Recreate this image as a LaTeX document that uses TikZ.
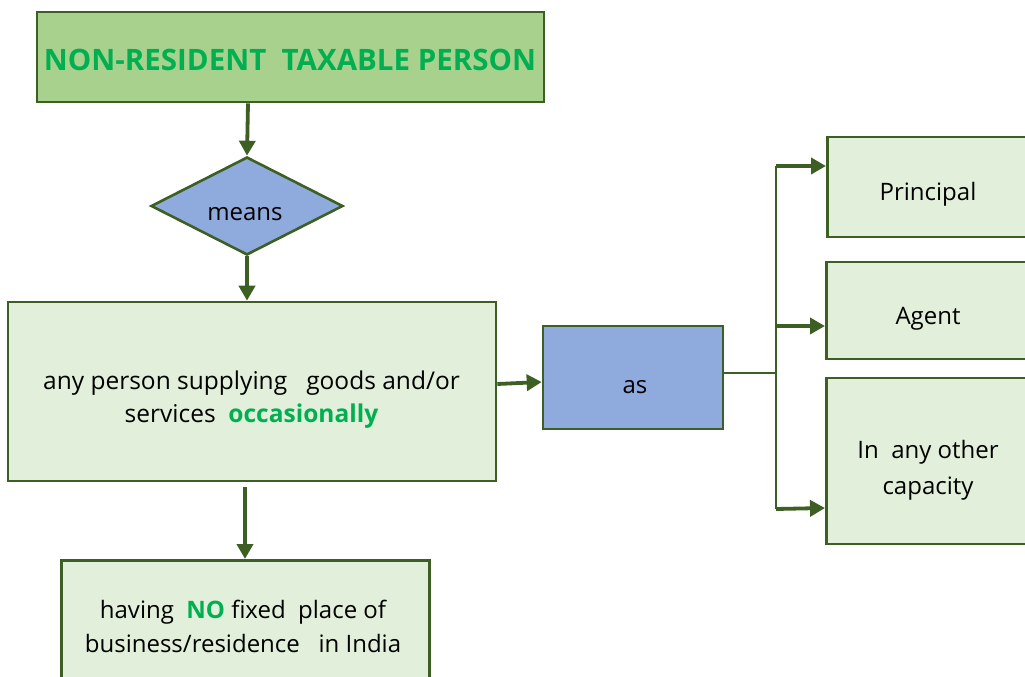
\documentclass[tikz,border=0pt]{standalone}
\usepackage{fontspec}
\setmainfont{Open Sans}
\usetikzlibrary{arrows.meta,shapes.geometric}
\definecolor{edge}{HTML}{3E5F24}
\definecolor{titlefill}{HTML}{A9D18E}
\definecolor{paleg}{HTML}{E2EFDA}
\definecolor{blue}{HTML}{8FAADC}
\definecolor{hilite}{HTML}{00B050}
\tikzset{
  box/.style={draw=edge, line width=2.6pt, fill=paleg, inner sep=0pt},
  bluebox/.style={box, fill=blue},
  txt/.style={align=center, inner sep=0pt, font=\fontsize{24}{34}\selectfont},
  conn/.style={draw=edge, line width=3.8pt, -{Triangle[length=15pt,width=16pt]}},
  wire/.style={draw=edge, line width=2.6pt},
}
\begin{document}
\begin{tikzpicture}[x=1pt,y=-1pt]
\useasboundingbox (0,0) rectangle (1025,677);
% title
\node[box, fill=titlefill, minimum width=507pt, minimum height=90pt] (title) at (290.5,57) {};
\node[txt, font=\fontsize{29.5}{34}\bfseries\selectfont, text=hilite] (titletext) at (290,59.5) {NON-RESIDENT\ \ TAXABLE PERSON};
% decision
\node[draw=edge, line width=2.6pt, fill=blue, diamond, aspect=1.96, minimum width=192pt, minimum height=98pt, inner sep=0pt] (means) at (247,206) {};
\node[txt] (meanstext) at (245,214) {means};
% main statement
\node[box, minimum width=488pt, minimum height=179pt] (main) at (252,391.5) {};
\node[txt, font=\fontsize{24.5}{33}\selectfont] (maintext) at (251.5,399.5) {any person supplying\ \ \ goods and/or\\services\ \ \textcolor{hilite}{\textbf{occasionally}}};
\node[bluebox, minimum width=180pt, minimum height=103pt] (as) at (633,377.5) {};
\node[txt] (astext) at (635,387) {as};
% capacities
\node[box, minimum width=209pt, minimum height=100pt, anchor=west] (principal) at (826,187) {};
\node[txt] (principaltext) at (928,194) {Principal};
\node[box, minimum width=210pt, minimum height=97pt, anchor=west] (agent) at (825,310.5) {};
\node[txt] (agenttext) at (928,319) {Agent};
\node[box, minimum width=210pt, minimum height=166pt, anchor=west] (other) at (825,461) {};
\node[txt, font=\fontsize{24}{36}\selectfont] (othertext) at (928,470) {In\ \ any other\\capacity};
% residence
\node[box, minimum width=368pt, minimum height=130pt, anchor=north west] (res) at (60,559) {};
\node[txt] (restext) at (243,626) {having\ \ \textcolor{hilite}{\textbf{NO}} fixed\ \ place\ of\\business/residence\ \ \ in India};
% connectors
\draw[conn] (title.south -| 248,0) -- (means.north);
\draw[conn] (means.south) -- (main.north -| means.south);
\draw[conn] (main.east |- 0,384) -- (as.west |- 0,382);
\coordinate (split) at (776,373);
\draw[wire] (as.east |- split) -- (split);
\draw[wire] (776,166) -- (776,509);
\draw[conn] (776,166) -- (principal.west |- 0,166);
\draw[conn] (776,326) -- (agent.west |- 0,326);
\draw[conn] (776,509) -- (other.west |- 0,508);
\draw[conn] (245,487) -- (res.north -| 245,0);
\end{tikzpicture}
\end{document}
